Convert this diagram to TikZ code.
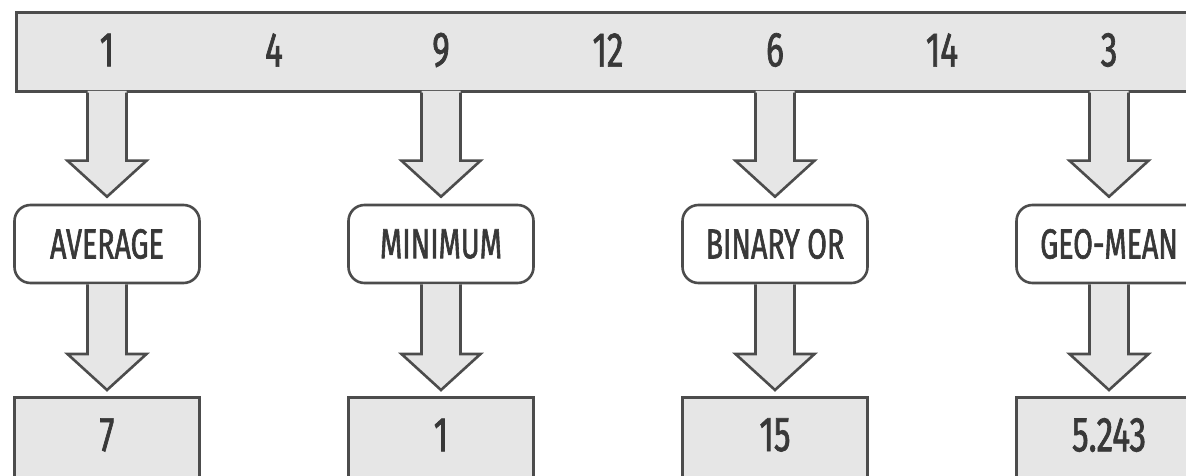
\documentclass[tikz,border=0pt]{standalone}
\usepackage{fontspec}
\setmainfont[FakeStretch=0.68, FakeBold=1.4]{Fira Sans}
\usetikzlibrary{calc}

\definecolor{edge}{HTML}{4C4C4C}
\definecolor{panel}{HTML}{E6E6E6}
\definecolor{ink}{HTML}{383838}

\tikzset{
  outline/.style={draw=edge, line width=2.6pt, line join=miter},
  valtext/.style={text=ink, inner sep=0pt, font=\fontsize{49}{52}\selectfont},
  fnbox/.style={outline, fill=white, rounded corners=16pt, minimum width=185pt,
    minimum height=78pt, inner sep=0pt, text=ink, font=\fontsize{42}{46}\selectfont},
  resbox/.style={outline, fill=panel, minimum width=185pt, minimum height=130pt, inner sep=0pt},
  barbox/.style={outline, fill=panel, minimum width=1205pt, minimum height=79pt, inner sep=0pt},
}

% Block arrow: #1 stem top, #2 target anchor, #3 gap before target, #4 upward overlap of the fill
\newcommand\blockarrow[4]{%
  \coordinate (ba-top) at (#1);
  \coordinate (ba-tip) at ($(#2)+(0,#3)$);
  \fill[panel] ($(ba-top)+(-19.5,-#4)$) -- ($(ba-tip)+(-19.5,-36)$) -- ($(ba-tip)+(-39.5,-36)$)
    -- (ba-tip) -- ($(ba-tip)+(39.5,-36)$) -- ($(ba-tip)+(19.5,-36)$) -- ($(ba-top)+(19.5,-#4)$) -- cycle;
  \draw[outline] ($(ba-top)+(-19.5,0)$) -- ($(ba-tip)+(-19.5,-36)$) -- ($(ba-tip)+(-39.5,-36)$)
    -- (ba-tip) -- ($(ba-tip)+(39.5,-36)$) -- ($(ba-tip)+(19.5,-36)$) -- ($(ba-top)+(19.5,0)$);
}

\begin{document}
\begin{tikzpicture}[x=1pt, y=-1pt]
  \useasboundingbox (0,0) rectangle (1186,476);
  \clip (0,0) rectangle (1186,476);

  % input values
  \node[barbox, anchor=north west] (bar) at (15,11) {};
  \foreach \n [count=\k] in {1,4,9,12,6,14,3}
    \node[valtext] (n\k) at ({107+167*(\k-1)},50) {\n};

  % aggregate functions and their results
  \foreach \i/\x/\fn/\res in {1/107/AVERAGE/7, 2/441/MINIMUM/1, 3/775/BINARY OR/15, 4/1109/GEO-MEAN/5.243} {
    \node[fnbox] (f\i) at (\x,244) {\fn};
    \node[resbox, anchor=north] (r\i) at (\x,396) {};
    \node[valtext] (v\i) at (\x,435) {\res};
  }

  \foreach \i in {1,...,4} {
    \blockarrow{f\i |- bar.south}{f\i.north}{-7}{1.6}
    \blockarrow{f\i.south}{r\i.north}{-6}{0}
  }
\end{tikzpicture}
\end{document}
